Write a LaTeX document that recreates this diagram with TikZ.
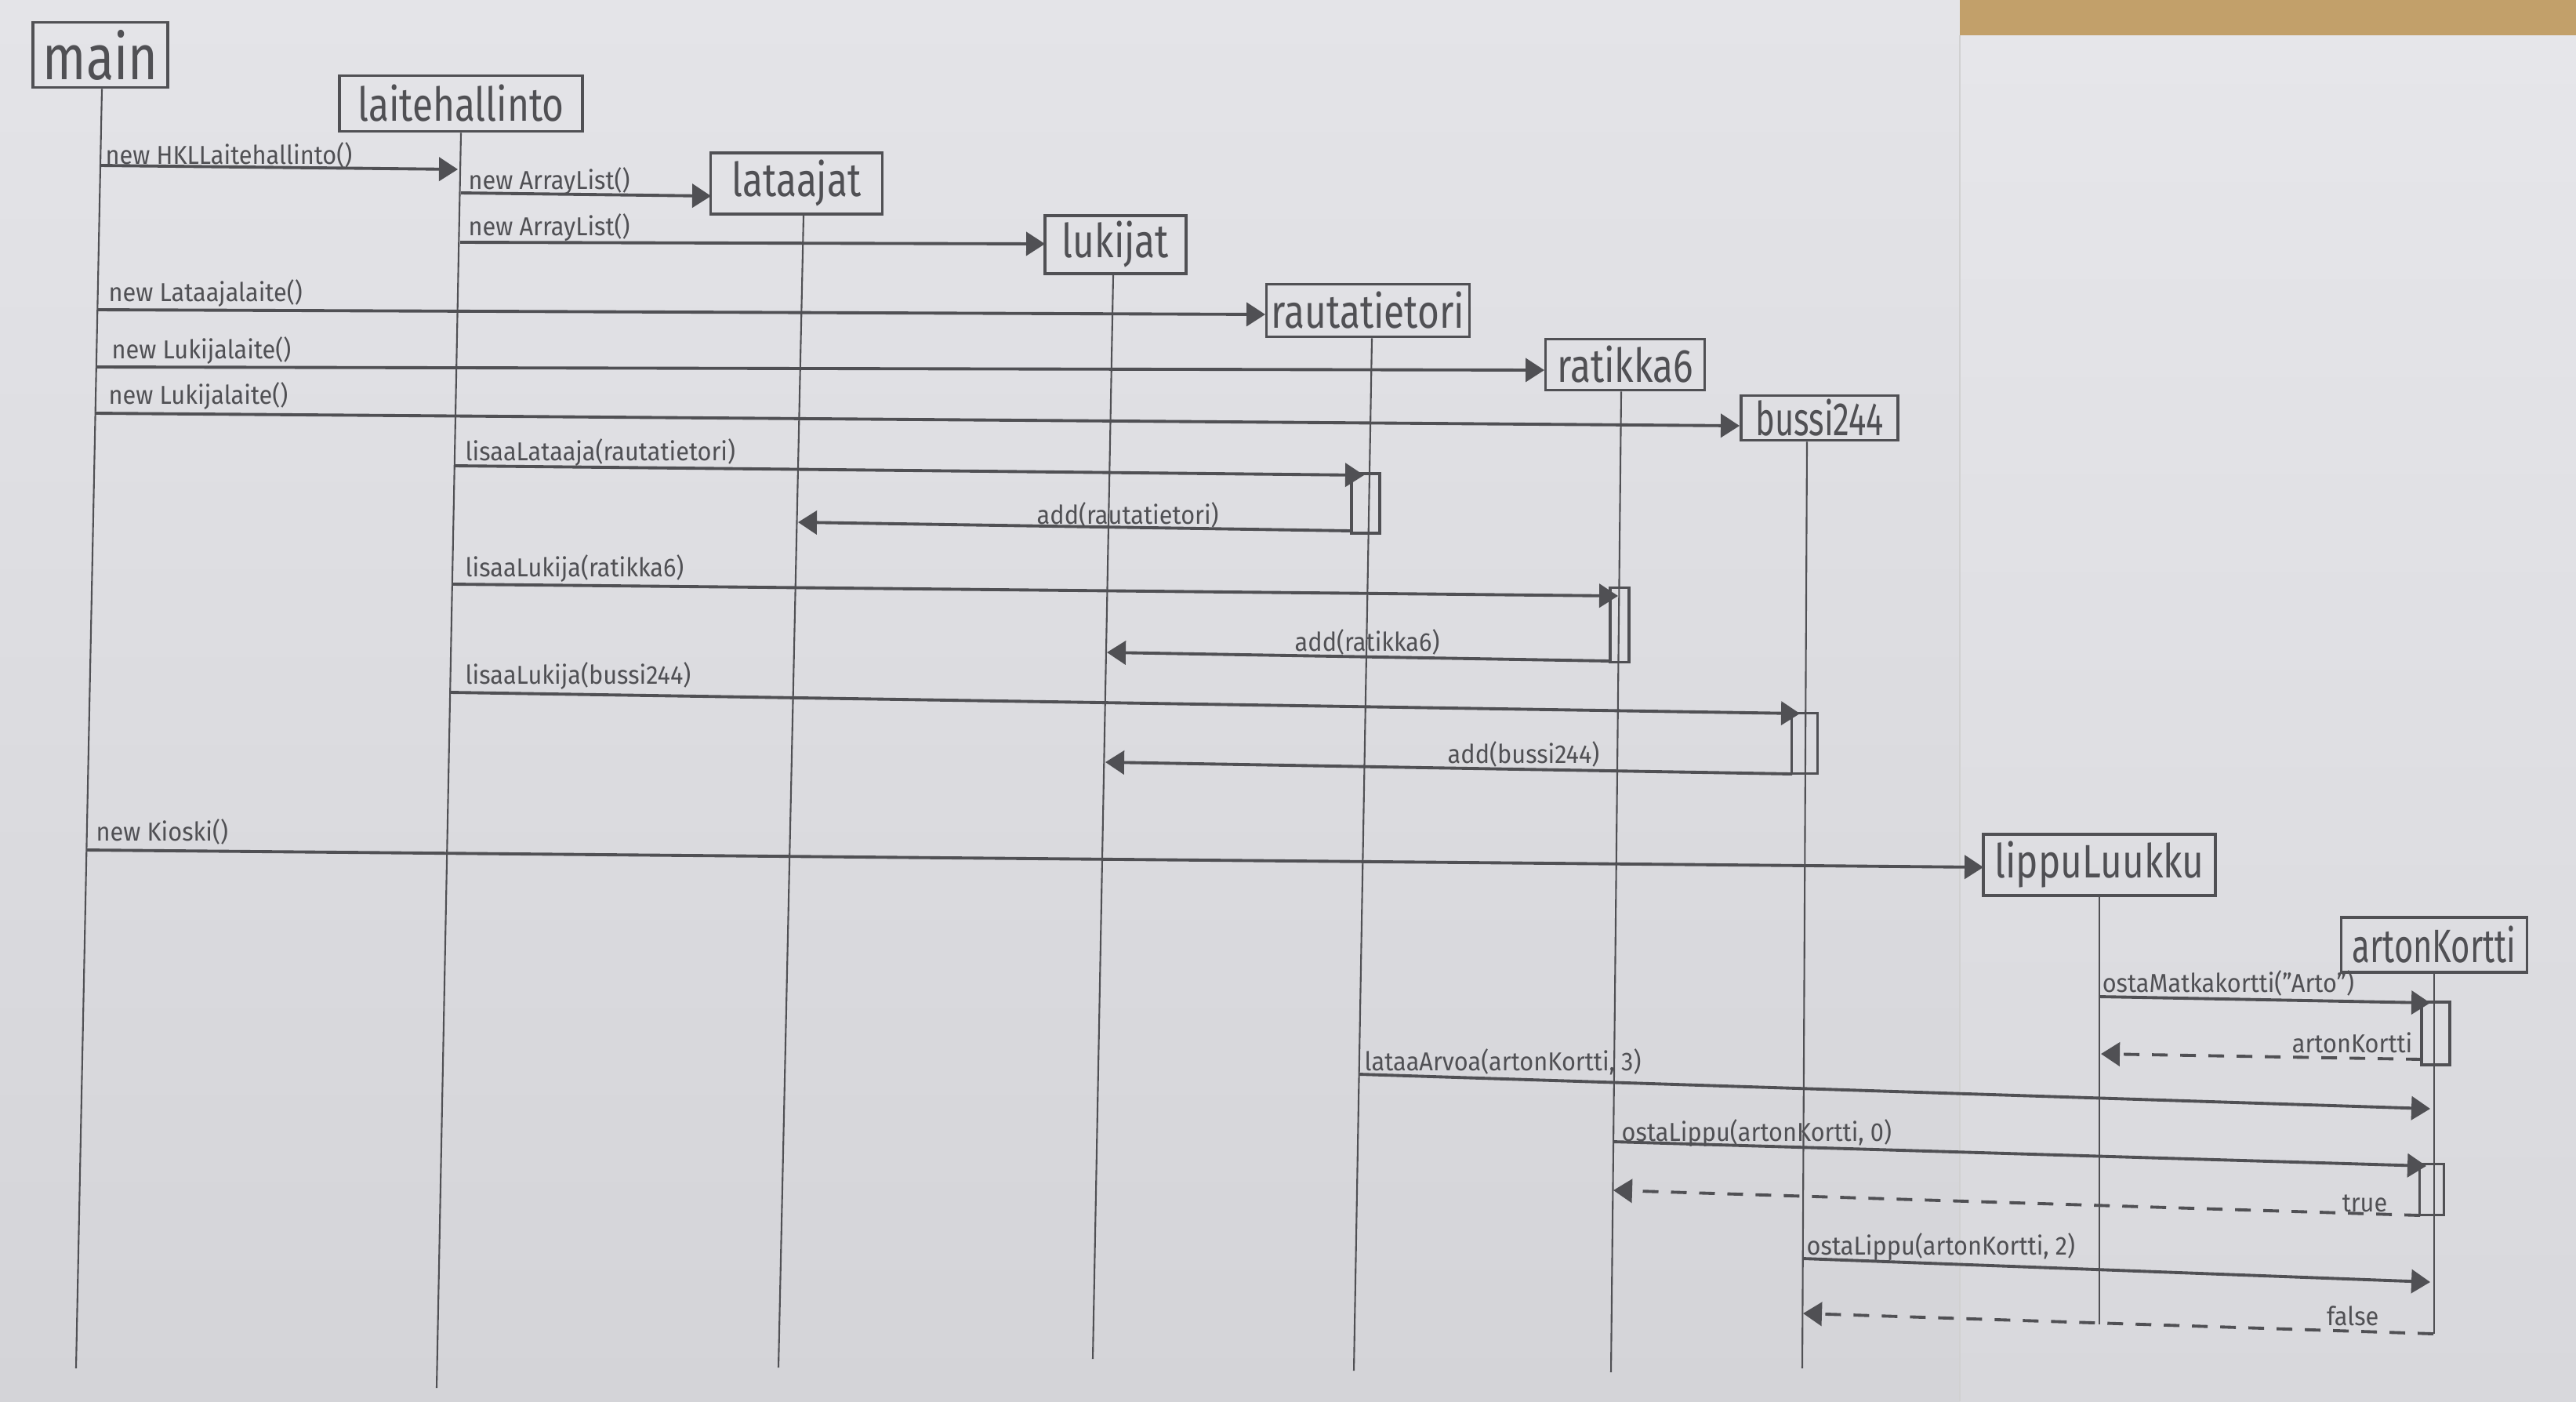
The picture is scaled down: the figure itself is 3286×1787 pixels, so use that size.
\documentclass[tikz,border=0pt]{standalone}
\usepackage{fontspec}
\setmainfont{Fira Sans}[FakeStretch=0.93]
\newfontfamily\boxfont{Fira Sans}[FakeStretch=0.8]
\newfontfamily\boxfontnarrow{Fira Sans}[FakeStretch=0.7]
\usetikzlibrary{arrows.meta}

\definecolor{papertop}{RGB}{228,228,232}
\definecolor{paperbot}{RGB}{212,212,216}
\definecolor{paperRtop}{RGB}{230,230,234}
\definecolor{paperRbot}{RGB}{216,216,220}
\definecolor{wood}{RGB}{194,160,106}
\definecolor{pencil}{RGB}{80,80,84}

\tikzset{
  objbox/.style={draw=pencil, line width=1.1pt, inner sep=0pt, text=pencil,
                 font=\boxfont\fontsize{17}{20}\selectfont},
  narrowtext/.style={font=\boxfontnarrow\fontsize{17}{20}\selectfont},
  life/.style={draw=pencil, line width=0.6pt},
  msg/.style={draw=pencil, line width=1.1pt, -{Triangle[length=2.4mm,width=3mm]}},
  ret/.style={msg, dash pattern=on 2mm off 1.6mm},
  lbl/.style={text=pencil, font=\fontsize{9.4}{10}\selectfont, inner sep=0pt, anchor=base west},
  rlbl/.style={lbl, anchor=base east},
  actbox/.style={draw=pencil, line width=0.9pt, inner sep=0pt},
}

\begin{document}
\begin{tikzpicture}[x=0.1mm, y=-0.1mm]
\useasboundingbox (0,0) rectangle (3286,1787);

% paper sheets and table
\shade[top color=papertop, bottom color=paperbot] (0,0) rectangle (2500,1787);
\fill[wood] (2500,0) rectangle (3286,45);
\shade[top color=paperRtop, bottom color=paperRbot] (2500,45) rectangle (3286,1787);
\draw[black!18, line width=0.8pt] (2500,45) -- (2500,1787);

% objects
\node[objbox, minimum width=17.2mm, minimum height=8.3mm, font=\boxfont\fontsize{23}{26}\selectfont] (main) at (128,70) {main};
\node[objbox, minimum width=31mm, minimum height=7.1mm] (lh) at (588,132) {laitehallinto};
\node[objbox, minimum width=21.9mm, minimum height=7.8mm] (lat) at (1016,234) {lataajat};
\node[objbox, minimum width=18mm, minimum height=7.4mm] (luk) at (1423,312) {lukijat};
\node[objbox, minimum width=25.9mm, minimum height=6.7mm] (rt) at (1745,396) {rautatietori};
\node[objbox, minimum width=20.3mm, minimum height=6.5mm] (r6) at (2073,465) {ratikka6};
\node[objbox, narrowtext, minimum width=20mm, minimum height=5.7mm] (b244) at (2321,533) {bussi244};
\node[objbox, minimum width=29.6mm, minimum height=7.8mm] (lippu) at (2678,1103) {lippuLuukku};
\node[objbox, narrowtext, minimum width=23.7mm, minimum height=7mm] (ak) at (3105,1205) {artonKortti};

% lifeline ends
\coordinate (mainEnd) at (97,1745);
\coordinate (lhEnd) at (557,1770);
\coordinate (latEnd) at (993,1744);
\coordinate (lukEnd) at (1394,1733);
\coordinate (rtEnd) at (1727,1748);
\coordinate (r6End) at (2055,1750);
\coordinate (b244End) at (2299,1745);
\coordinate (lippuEnd) at (2678,1689);
\coordinate (akEnd) at (3105,1701);

\draw[life] ([xshift=0.2mm]main.south) -- (mainEnd);
\draw[life] (lh.south) -- (lhEnd);
\draw[life] ([xshift=0.9mm]lat.south) -- (latEnd);
\draw[life] ([xshift=-0.3mm]luk.south) -- (lukEnd);
\draw[life] ([xshift=0.5mm]rt.south) -- (rtEnd);
\draw[life] ([xshift=-0.5mm]r6.south) -- (r6End);
\draw[life] ([xshift=-1.6mm]b244.south) -- (b244End);
\draw[life] (lippu.south) -- (lippuEnd);
\draw[life] (ak.south) -- (akEnd);

% activation bars
\node[actbox, minimum width=3.6mm, minimum height=7.6mm] (actRt) at (1742,642) {};
\node[actbox, minimum width=2.4mm, minimum height=9.5mm] (actR6) at (2066,797) {};
\node[actbox, minimum width=3.3mm, minimum height=7.7mm] (actB) at (2302,948) {};
\node[actbox, minimum width=3.6mm, minimum height=8mm] (actAk1) at (3107,1318) {};
\node[actbox, minimum width=3.1mm, minimum height=6.5mm] (actAk2) at (3102,1517) {};

% message end points
\coordinate (m1a) at (128,211);   \coordinate (m1b) at (584,216);
\coordinate (m2a) at (588,246);   \coordinate (m2b) at (907,250);
\coordinate (m3a) at (587,309);   \coordinate (m3b) at (1333,311);
\coordinate (m4a) at (124,395);   \coordinate (m4b) at (1614,401);
\coordinate (m5a) at (123,468);   \coordinate (m5b) at (1970,472);
\coordinate (m6a) at (122,527);   \coordinate (m6b) at (2219,543);
\coordinate (m7a) at (581,594);   \coordinate (m7b) at (1740,606);
\coordinate (m8a) at (1724,677);  \coordinate (m8b) at (1018,666);
\coordinate (m9a) at (578,745);   \coordinate (m9b) at (2064,760);
\coordinate (m10a) at (2054,843); \coordinate (m10b) at (1412,832);
\coordinate (m11a) at (575,883);  \coordinate (m11b) at (2296,910);
\coordinate (m12a) at (2286,987); \coordinate (m12b) at (1410,972);
\coordinate (m13a) at (110,1084); \coordinate (m13b) at (2530,1106);
\coordinate (m14a) at (2678,1271);\coordinate (m14b) at (3100,1279);
\coordinate (m15a) at (3089,1351);\coordinate (m15b) at (2680,1344);
\coordinate (m16a) at (1734,1370);\coordinate (m16b) at (3100,1414);
\coordinate (m17a) at (2058,1456);\coordinate (m17b) at (3095,1487);
\coordinate (m18a) at (3087,1550);\coordinate (m18b) at (2058,1518);
\coordinate (m19a) at (2300,1605);\coordinate (m19b) at (3100,1635);
\coordinate (m20a) at (3104,1701);\coordinate (m20b) at (2300,1675);

% messages
\draw[msg] (m1a) -- (m1b);
\draw[msg] (m2a) -- (m2b);
\draw[msg] (m3a) -- (m3b);
\draw[msg] (m4a) -- (m4b);
\draw[msg] (m5a) -- (m5b);
\draw[msg] (m6a) -- (m6b);
\draw[msg] (m7a) -- (m7b);
\draw[msg] (m8a) -- (m8b);
\draw[msg] (m9a) -- (m9b);
\draw[msg] (m10a) -- (m10b);
\draw[msg] (m11a) -- (m11b);
\draw[msg] (m12a) -- (m12b);
\draw[msg] (m13a) -- (m13b);
\draw[msg] (m14a) -- (m14b);
\draw[ret] (m15a) -- (m15b);
\draw[msg] (m16a) -- (m16b);
\draw[msg] (m17a) -- (m17b);
\draw[ret] (m18a) -- (m18b);
\draw[msg] (m19a) -- (m19b);
\draw[ret] (m20a) -- (m20b);

% message labels
\node[lbl] (t1) at (134,209) {new HKLLaitehallinto()};
\node[lbl] (t2) at (597,241) {new ArrayList()};
\node[lbl] (t3) at (597,300) {new ArrayList()};
\node[lbl] (t4) at (138,384) {new Lataajalaite()};
\node[lbl] (t5) at (142,457) {new Lukijalaite()};
\node[lbl] (t6) at (138,515) {new Lukijalaite()};
\node[lbl] (t7) at (593,587) {lisaaLataaja(rautatietori)};
\node[lbl] (t8) at (1322,668) {add(rautatietori)};
\node[lbl] (t9) at (593,735) {lisaaLukija(ratikka6)};
\node[lbl] (t10) at (1651,830) {add(ratikka6)};
\node[lbl] (t11) at (593,872) {lisaaLukija(bussi244)};
\node[lbl] (t12) at (1846,973) {add(bussi244)};
\node[lbl] (t13) at (122,1072) {new Kioski()};
\node[lbl] (t14) at (2681,1265) {ostaMatkakortti("Arto")};
\node[rlbl] (t15) at (3078,1342) {artonKortti};
\node[lbl] (t16) at (1740,1365) {lataaArvoa(artonKortti, 3)};
\node[lbl] (t17) at (2068,1455) {ostaLippu(artonKortti, 0)};
\node[rlbl] (t18) at (3046,1545) {true};
\node[lbl] (t19) at (2304,1600) {ostaLippu(artonKortti, 2)};
\node[rlbl] (t20) at (3035,1690) {false};
\end{tikzpicture}
\end{document}
